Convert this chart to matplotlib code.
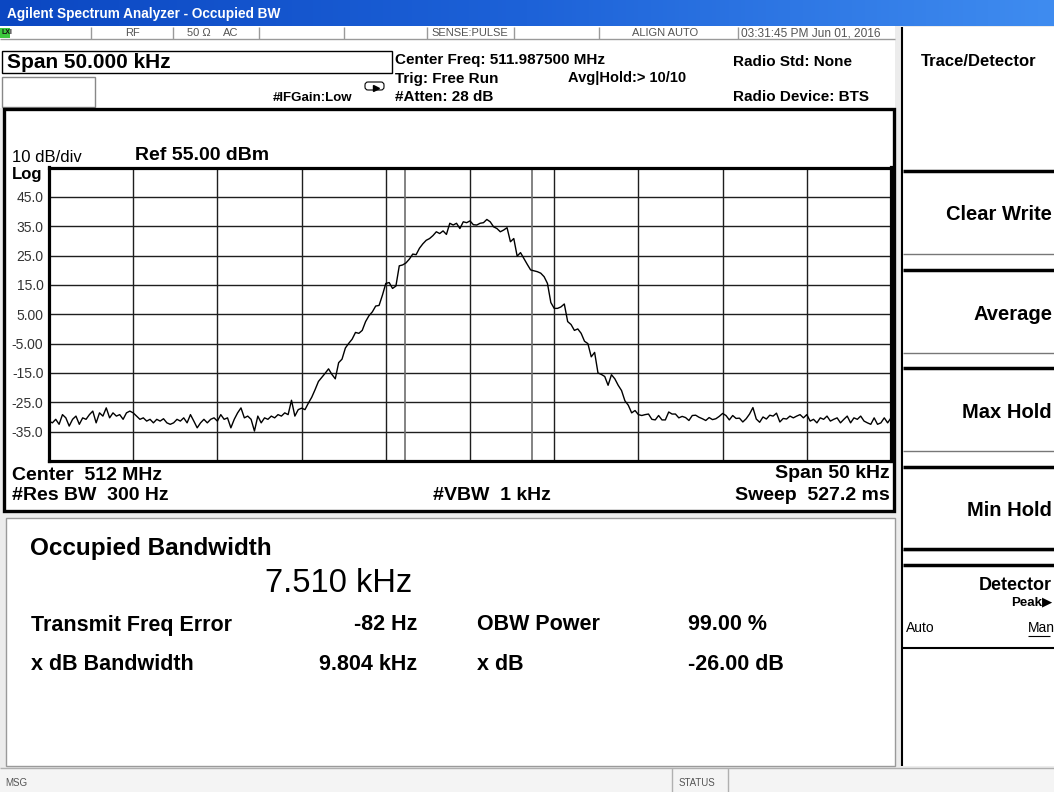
import numpy as np
import matplotlib
matplotlib.use("Agg")
import matplotlib.pyplot as plt
from matplotlib.patches import Rectangle, FancyBboxPatch
from matplotlib.colors import LinearSegmentedColormap

plt.rcParams['font.family'] = ['Liberation Sans', 'DejaVu Sans']

# trace, offset from centre in kHz / level in dBm
freq_khz = [
    -25.0, -24.8, -24.6, -24.4, -24.2, -24.0, -23.8, -23.6, -23.4, -23.2,
    -23.0, -22.8, -22.6, -22.4, -22.2, -22.0, -21.8, -21.6, -21.4, -21.2,
    -21.0, -20.8, -20.6, -20.4, -20.2, -20.0, -19.8, -19.6, -19.4, -19.2,
    -19.0, -18.8, -18.6, -18.4, -18.2, -18.0, -17.8, -17.6, -17.4, -17.2,
    -17.0, -16.8, -16.6, -16.4, -16.2, -16.0, -15.8, -15.6, -15.4, -15.2,
    -15.0, -14.8, -14.6, -14.4, -14.2, -14.0, -13.8, -13.6, -13.4, -13.2,
    -13.0, -12.8, -12.6, -12.4, -12.2, -12.0, -11.8, -11.6, -11.4, -11.2,
    -11.0, -10.8, -10.6, -10.4, -10.2, -10.0, -9.8, -9.6, -9.4, -9.2,
    -9.0, -8.8, -8.6, -8.4, -8.2, -8.0, -7.8, -7.6, -7.4, -7.2,
    -7.0, -6.8, -6.6, -6.4, -6.2, -6.0, -5.8, -5.6, -5.4, -5.2,
    -5.0, -4.8, -4.6, -4.4, -4.2, -4.0, -3.8, -3.6, -3.4, -3.2,
    -3.0, -2.8, -2.6, -2.4, -2.2, -2.0, -1.8, -1.6, -1.4, -1.2,
    -1.0, -0.8, -0.6, -0.4, -0.2, 0.0, 0.2, 0.4, 0.6, 0.8,
    1.0, 1.2, 1.4, 1.6, 1.8, 2.0, 2.2, 2.4, 2.6, 2.8,
    3.0, 3.2, 3.4, 3.6, 3.8, 4.0, 4.2, 4.4, 4.6, 4.8,
    5.0, 5.2, 5.4, 5.6, 5.8, 6.0, 6.2, 6.4, 6.6, 6.8,
    7.0, 7.2, 7.4, 7.6, 7.8, 8.0, 8.2, 8.4, 8.6, 8.8,
    9.0, 9.2, 9.4, 9.6, 9.8, 10.0, 10.2, 10.4, 10.6, 10.8,
    11.0, 11.2, 11.4, 11.6, 11.8, 12.0, 12.2, 12.4, 12.6, 12.8,
    13.0, 13.2, 13.4, 13.6, 13.8, 14.0, 14.2, 14.4, 14.6, 14.8,
    15.0, 15.2, 15.4, 15.6, 15.8, 16.0, 16.2, 16.4, 16.6, 16.8,
    17.0, 17.2, 17.4, 17.6, 17.8, 18.0, 18.2, 18.4, 18.6, 18.8,
    19.0, 19.2, 19.4, 19.6, 19.8, 20.0, 20.2, 20.4, 20.6, 20.8,
    21.0, 21.2, 21.4, 21.6, 21.8, 22.0, 22.2, 22.4, 22.6, 22.8,
    23.0, 23.2, 23.4, 23.6, 23.8, 24.0, 24.2, 24.4, 24.6, 24.8,
    25.0,
]
level_dbm = [
    -31.4, -32.0, -30.8, -32.5, -29.2, -30.3, -33.1, -30.8, -29.7, -32.5,
    -30.3, -30.8, -29.2, -28.0, -32.0, -28.6, -29.7, -26.9, -30.3, -28.6,
    -29.7, -29.2, -30.8, -28.6, -28.0, -28.6, -29.7, -30.8, -30.3, -31.4,
    -30.8, -32.0, -30.8, -31.4, -30.6, -32.0, -32.5, -32.0, -30.8, -31.4,
    -30.3, -32.0, -29.2, -31.4, -33.7, -32.0, -30.8, -32.0, -30.8, -30.3,
    -31.4, -29.2, -30.8, -30.3, -33.7, -30.8, -28.6, -26.9, -30.3, -29.7,
    -30.8, -34.8, -29.7, -32.0, -30.3, -30.8, -29.7, -30.3, -29.2, -29.7,
    -28.6, -29.2, -24.3, -29.7, -27.5, -27.0, -27.5, -25.3, -23.3, -20.7,
    -17.9, -16.5, -15.1, -13.6, -15.5, -17.0, -11.5, -10.3, -6.5, -4.9,
    -3.5, -1.2, -1.5, -0.5, 2.5, 4.5, 5.8, 7.8, 8.0, 11.5,
    15.5, 15.8, 13.8, 14.6, 21.5, 21.8, 22.5, 23.8, 25.5, 25.3,
    27.5, 29.0, 30.2, 30.8, 31.8, 33.1, 32.5, 33.4, 32.2, 36.0,
    35.4, 36.0, 34.2, 36.5, 36.2, 36.8, 35.5, 35.4, 36.0, 36.2,
    37.3, 36.5, 34.8, 34.2, 33.1, 33.7, 34.5, 29.7, 30.8, 24.8,
    26.0, 24.0, 22.0, 20.1, 19.8, 19.5, 19.0, 17.8, 15.5, 9.0,
    7.0, 7.0, 7.5, 8.5, 2.5, 1.5, -0.5, 0.0, -1.5, -4.2,
    -5.0, -9.5, -8.0, -15.0, -15.5, -16.2, -19.2, -15.6, -17.0, -19.2,
    -21.0, -24.5, -26.0, -28.6, -27.8, -29.2, -29.5, -29.2, -29.0, -30.8,
    -31.0, -29.5, -31.0, -31.0, -28.3, -29.0, -29.0, -30.3, -29.8, -30.2,
    -31.2, -29.5, -29.4, -30.1, -30.6, -31.2, -30.2, -30.9, -30.6, -29.8,
    -28.8, -29.5, -31.0, -29.5, -30.5, -30.4, -31.7, -30.6, -29.0, -26.8,
    -30.7, -31.8, -30.0, -30.7, -29.4, -29.7, -28.7, -31.7, -30.5, -30.7,
    -29.7, -30.3, -29.7, -29.2, -30.3, -29.2, -31.4, -30.8, -32.0, -30.3,
    -30.8, -29.7, -31.4, -30.8, -30.3, -32.0, -30.8, -29.7, -32.0, -30.3,
    -30.8, -29.7, -31.4, -32.0, -32.5, -30.3, -32.5, -32.0, -30.3, -32.0,
    -30.3,
]

y_ticks = [45, 35, 25, 15, 5, -5, -15, -25, -35]
y_tick_labels = ['45.0', '35.0', '25.0', '15.0', '5.00', '-5.00', '-15.0', '-25.0', '-35.0']
x_grid = [-20, -15, -10, -5, 0, 5, 10, 15, 20]
ref_level = 55.0
bottom_level = -45.0
half_span = 25.0

obw_khz = 7.510
freq_err_khz = -0.082

softkeys = ['Clear Write', 'Average', 'Max Hold', 'Min Hold']

W, H = 1054, 792
fig = plt.figure(figsize=(W / 100, H / 100), dpi=100)
fig.patch.set_facecolor('#ececec')

# whole-window "screen" in pixel coordinates
bg = fig.add_axes([0, 0, 1, 1])
bg.set_xlim(0, W)
bg.set_ylim(H, 0)
bg.axis('off')


def box(x0, y0, x1, y1, fc='white', ec='none', lw=1.0, z=1):
    bg.add_patch(Rectangle((x0, y0), x1 - x0, y1 - y0, facecolor=fc,
                           edgecolor=ec, linewidth=lw, zorder=z))


def hline(y, x0, x1, color='black', lw=1.0, z=3):
    bg.plot([x0, x1], [y, y], color=color, lw=lw, zorder=z, solid_capstyle='butt')


def vline(x, y0, y1, color='black', lw=1.0, z=3):
    bg.plot([x, x], [y0, y1], color=color, lw=lw, zorder=z, solid_capstyle='butt')


def label(x, y, s, size, weight='bold', ha='left', color='black', z=5):
    bg.text(x, y, s, fontsize=size, fontweight=weight, ha=ha, va='center',
            color=color, zorder=z, clip_on=True)


# title bar
blue = LinearSegmentedColormap.from_list('xp', ['#0b47c2', '#1d62d8', '#3f8cf0'])
bg.imshow(np.linspace(0, 1, 256)[None, :], cmap=blue, aspect='auto',
          extent=[0, W, 26, 0], zorder=1)
bg.set_xlim(0, W)
bg.set_ylim(H, 0)
label(7, 14, 'Agilent Spectrum Analyzer - Occupied BW', 9.8, color='white')

# status strip
box(0, 26, 895, 39, fc='white')
hline(39, 0, 895, color='#9a9a9a', lw=1)
for xc in [90.5, 173, 259, 344, 427, 514, 599, 738]:
    vline(xc, 27, 39, color='#9a9a9a', lw=1)
box(0, 28, 10, 38, fc='#3cc83c')
label(1, 33, 'LXI', 5, weight='bold', color='#111')
label(132, 33, 'RF', 8, weight='normal', ha='center', color='#555')
label(187, 33, '50 \u03a9', 8, weight='normal', color='#555')
label(223, 33, 'AC', 8, weight='normal', color='#555')
label(431, 33, 'SENSE:PULSE', 8, weight='normal', color='#555')
label(632, 33, 'ALIGN AUTO', 8, weight='normal', color='#555')
label(741, 33, '03:31:45 PM Jun 01, 2016', 8.6, weight='normal', color='#555')

# header
box(0, 39, 895, 108, fc='white')
box(2, 51, 392, 73, fc='white', ec='black', lw=1)
label(7, 62, 'Span 50.000 kHz', 15)
box(2, 77, 95, 107, fc='white', ec='#888', lw=1)
bg.add_patch(FancyBboxPatch((365, 82), 19, 8, boxstyle='round,pad=0,rounding_size=3',
                            facecolor='white', edgecolor='black', lw=0.8, zorder=4))
bg.plot([376], [88], marker='>', color='black', ms=4, zorder=5)
label(273, 98, '#IFGain:Low', 9.5)
label(395, 60, 'Center Freq: 511.987500 MHz', 11)
label(395, 79, 'Trig: Free Run', 11)
label(395, 97, '#Atten: 28 dB', 11)
label(568, 78, 'Avg|Hold:> 10/10', 10.5)
label(733, 62, 'Radio Std: None', 11)
label(733, 97, 'Radio Device: BTS', 11)

# right soft key panel
box(902, 27, W + 5, 766, fc='white')
vline(902, 27, 766, color='black', lw=1.5)
label(921, 62, 'Trace/Detector', 12)
key_tops = [171, 270, 368, 467]
for top, name in zip(key_tops, softkeys):
    hline(top, 903, W, lw=2.5)
    hline(top + 83, 903, W, color='#777', lw=1)
    label(1052, top + 44, name, 14.5, ha='right')
hline(549, 903, W, lw=2.5)
hline(565, 903, W, lw=2.5)
hline(648, 903, W, lw=1.5)
label(1052, 586, 'Detector', 13, ha='right')
label(1052, 602, 'Peak\u25b6', 9.5, ha='right')
label(906, 628, 'Auto', 10, weight='normal')
label(1028, 628, 'Man', 10, weight='normal')
hline(636, 1028, 1050, lw=0.8)

# main measurement panel
box(4, 109, 894, 511, fc='white', ec='black', lw=2.4)
label(12, 158, '10 dB/div', 12, weight='normal')
label(135, 156, 'Ref 55.00 dBm', 14)
label(12, 175, 'Log', 12)
label(12, 475, 'Center  512 MHz', 14)
label(12, 495, '#Res BW  300 Hz', 14)
label(492, 495, '#VBW  1 kHz', 14, ha='center')
label(890, 474, 'Span 50 kHz', 14, ha='right')
label(890, 495, 'Sweep  527.2 ms', 14, ha='right')

# results panel
box(6, 518, 895, 766, fc='white', ec='#9a9a9a', lw=1)
label(30, 548, 'Occupied Bandwidth', 17.5)
label(265, 583, '7.510 kHz', 23.5, weight='normal')
label(31, 625, 'Transmit Freq Error', 15.5)
label(417, 625, '-82 Hz', 15.5, ha='right')
label(477, 625, 'OBW Power', 15.5)
label(688, 625, '99.00 %', 15.5)
label(31, 665, 'x dB Bandwidth', 15.5)
label(417, 665, '9.804 kHz', 15.5, ha='right')
label(477, 665, 'x dB', 15.5)
label(688, 665, '-26.00 dB', 15.5)

# status bar
box(0, 768, W, H, fc='#f4f4f4')
hline(768, 0, W, color='#b0b0b0', lw=1)
vline(672, 768, H, color='#b0b0b0', lw=1)
vline(728, 768, H, color='#b0b0b0', lw=1)
label(5, 783, 'MSG', 7, weight='normal', color='#555')
label(679, 783, 'STATUS', 7, weight='normal', color='#555')

# spectrum graticule
x0, x1, ytop, ybot = 49, 891, 167.5, 461
ax = fig.add_axes([x0 / W, 1 - ybot / H, (x1 - x0) / W, (ybot - ytop) / H])
ax.set_facecolor('white')
ax.set_xlim(-half_span, half_span)
ax.set_ylim(bottom_level, ref_level)
ax.set_yticks(y_ticks)
ax.set_yticklabels(y_tick_labels)
ax.set_xticks(x_grid)
ax.set_xticklabels([])
ax.tick_params(length=0, pad=4)
ax.tick_params(axis='y', labelsize=10, labelcolor='#333')
ax.set_axisbelow(True)
ax.grid(True, color='#1e1e1e', lw=1.0)
for sp in ax.spines.values():
    sp.set_linewidth(2.3)
    sp.set_color('black')

# OBW edges
ax.axvline(freq_err_khz - obw_khz / 2, color='#6e6e6e', lw=1.2, zorder=1)
ax.axvline(freq_err_khz + obw_khz / 2, color='#6e6e6e', lw=1.2, zorder=1)

ax.plot(freq_khz, level_dbm, color='black', lw=1.0, zorder=3)

fig.savefig('out.png', dpi=100, facecolor=fig.get_facecolor())
